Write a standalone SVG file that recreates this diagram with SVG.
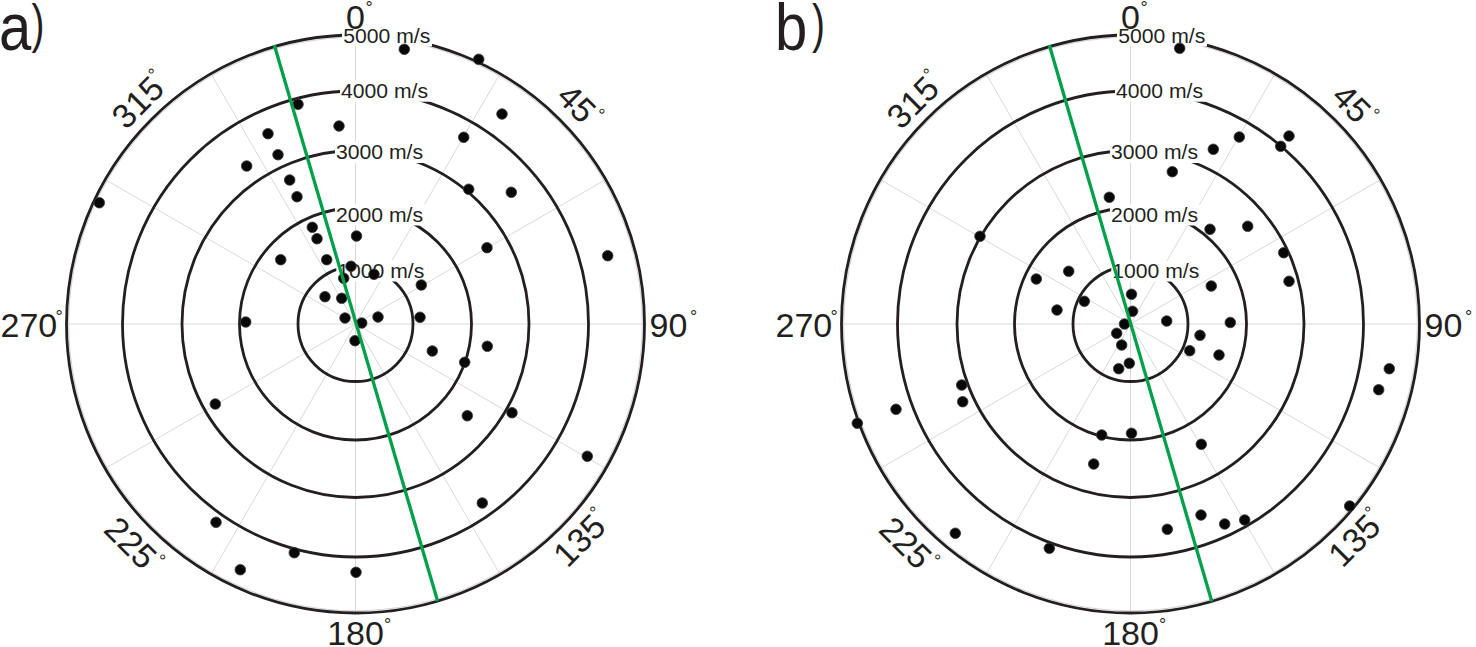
<svg xmlns="http://www.w3.org/2000/svg" xmlns:xlink="http://www.w3.org/1999/xlink" width="1476" height="647" viewBox="0 0 1476 647">
<style>
  text { font-family: "Liberation Sans", Arial, sans-serif; fill: #231f20; }
  .spoke { stroke: #d9d9d9; stroke-width: 1; fill: none; }
  .rim { stroke: #d2d2d2; stroke-width: 1; fill: none; }
  .ring { stroke: #231f20; stroke-width: 2.8; fill: none; }
  .bg { fill: #ffffff; stroke: none; }
  .rl { font-size: 20px; }
  .al { font-size: 34px; }
  .deg { font-size: 18px; }
  .pan { font-size: 66px; }
  .par { font-size: 54px; }
  .dot { fill: #080808; stroke: #3a3a3a; stroke-width: 0.8; }
  .trend { stroke: #00a04a; stroke-width: 3.3; fill: none; }
</style>
<defs>
  <g id="frame">
    <g id="spokes">
      <line class="spoke" x1="0" y1="-289" x2="0" y2="289"/>
      <line class="spoke" x1="144.5" y1="-250.3" x2="-144.5" y2="250.3"/>
      <line class="spoke" x1="250.3" y1="-144.5" x2="-250.3" y2="144.5"/>
      <line class="spoke" x1="-289" y1="0" x2="289" y2="0"/>
      <line class="spoke" x1="250.3" y1="144.5" x2="-250.3" y2="-144.5"/>
      <line class="spoke" x1="144.5" y1="250.3" x2="-144.5" y2="-250.3"/>
      <circle class="rim" r="286.8"/>
    </g>
    <g id="rings">
      <circle class="ring" r="57.5"/>
      <circle class="ring" r="116"/>
      <circle class="ring" r="173.5"/>
      <circle class="ring" r="233"/>
      <circle class="ring" r="289"/>
    </g>
    <g id="ring-labels">
      <rect class="bg" x="-13.5" y="-298.5" width="90" height="21"/>
      <rect class="bg" x="-15.5" y="-243.3" width="90" height="21"/>
      <rect class="bg" x="-20.5" y="-182" width="90" height="21"/>
      <rect class="bg" x="-20.5" y="-119.5" width="90" height="21"/>
      <rect class="bg" x="-19.2" y="-63.5" width="90" height="21"/>
      <text class="rl" x="-12.3" y="-281.5" textLength="87" lengthAdjust="spacingAndGlyphs">5000 m/s</text>
      <text class="rl" x="-14.5" y="-226.3" textLength="87" lengthAdjust="spacingAndGlyphs">4000 m/s</text>
      <text class="rl" x="-19.5" y="-165" textLength="87" lengthAdjust="spacingAndGlyphs">3000 m/s</text>
      <text class="rl" x="-19.5" y="-102.5" textLength="87" lengthAdjust="spacingAndGlyphs">2000 m/s</text>
      <text class="rl" x="-18.2" y="-46.5" textLength="87" lengthAdjust="spacingAndGlyphs">1000 m/s</text>
    </g>
    <g id="angle-labels">
      <text class="al" x="0" y="-295.5" text-anchor="middle">0</text>
      <text class="deg" x="13.5" y="-309.6" text-anchor="middle">°</text>
      <text class="al" x="294.1" y="12.7">90</text>
      <text class="deg" x="338" y="-0.8" text-anchor="middle">°</text>
      <text class="al" x="0" y="321" text-anchor="middle">180</text>
      <text class="deg" x="32" y="307" text-anchor="middle">°</text>
      <text class="al" x="-355" y="12.7">270</text>
      <text class="deg" x="-296.5" y="-0.9" text-anchor="middle">°</text>
      <g transform="translate(221.5,-221) rotate(45)">
        <text class="al" x="0" y="12.2" text-anchor="middle">45</text>
        <text class="deg" x="23.5" y="-1.8" text-anchor="middle">°</text>
      </g>
      <g transform="translate(223.5,216) rotate(-45)">
        <text class="al" x="0" y="12.2" text-anchor="middle">135</text>
        <text class="deg" x="31.5" y="-2.1" text-anchor="middle">°</text>
      </g>
      <g transform="translate(-224.5,218.5) rotate(45)">
        <text class="al" x="0" y="12.2" text-anchor="middle">225</text>
        <text class="deg" x="32.5" y="-2.1" text-anchor="middle">°</text>
      </g>
      <g transform="translate(-218,-222) rotate(-45)">
        <text class="al" x="0" y="12.2" text-anchor="middle">315</text>
        <text class="deg" x="31.5" y="-2.1" text-anchor="middle">°</text>
      </g>
    </g>
  </g>
</defs>

<g id="panel-a">
  <g id="panel-a-label">
    <text class="pan" transform="translate(0,50) scale(0.88,1)" x="-1" y="0">a</text>
    <text class="par" transform="translate(31.5,42) scale(0.72,1)" x="0" y="0">)</text>
  </g>
  <use id="frame-a" xlink:href="#frame" href="#frame" x="355.5" y="324"/>
  <g id="points-a">
    <circle class="dot" cx="404.3" cy="49.3" r="5.3"/>
    <circle class="dot" cx="478.7" cy="59.3" r="5.3"/>
    <circle class="dot" cx="298" cy="104.3" r="5.3"/>
    <circle class="dot" cx="502" cy="114" r="5.3"/>
    <circle class="dot" cx="339" cy="126" r="5.3"/>
    <circle class="dot" cx="268" cy="133.7" r="5.3"/>
    <circle class="dot" cx="463.7" cy="137.3" r="5.3"/>
    <circle class="dot" cx="278" cy="154.7" r="5.3"/>
    <circle class="dot" cx="246.7" cy="166" r="5.3"/>
    <circle class="dot" cx="289.7" cy="180" r="5.3"/>
    <circle class="dot" cx="468.7" cy="189.3" r="5.3"/>
    <circle class="dot" cx="511.3" cy="192.3" r="5.3"/>
    <circle class="dot" cx="297" cy="196.7" r="5.3"/>
    <circle class="dot" cx="99.3" cy="202.7" r="5.3"/>
    <circle class="dot" cx="312.3" cy="227.3" r="5.3"/>
    <circle class="dot" cx="317" cy="238.7" r="5.3"/>
    <circle class="dot" cx="356.5" cy="236" r="5.3"/>
    <circle class="dot" cx="487" cy="247.7" r="5.3"/>
    <circle class="dot" cx="607.7" cy="255.7" r="5.3"/>
    <circle class="dot" cx="280.7" cy="259.7" r="5.3"/>
    <circle class="dot" cx="326.7" cy="259.7" r="5.3"/>
    <circle class="dot" cx="351" cy="266.3" r="5.3"/>
    <circle class="dot" cx="374" cy="274.3" r="5.3"/>
    <circle class="dot" cx="343.7" cy="278.3" r="5.3"/>
    <circle class="dot" cx="421.3" cy="285" r="5.3"/>
    <circle class="dot" cx="325" cy="296.7" r="5.3"/>
    <circle class="dot" cx="341.7" cy="298.3" r="5.3"/>
    <circle class="dot" cx="378" cy="317" r="5.3"/>
    <circle class="dot" cx="420" cy="317.3" r="5.3"/>
    <circle class="dot" cx="245.7" cy="322" r="5.3"/>
    <circle class="dot" cx="345" cy="318" r="5.3"/>
    <circle class="dot" cx="361.7" cy="323" r="5.3"/>
    <circle class="dot" cx="355" cy="340.7" r="5.3"/>
    <circle class="dot" cx="432.3" cy="351" r="5.3"/>
    <circle class="dot" cx="487.3" cy="346.3" r="5.3"/>
    <circle class="dot" cx="464.7" cy="362.3" r="5.3"/>
    <circle class="dot" cx="467.3" cy="415.7" r="5.3"/>
    <circle class="dot" cx="512" cy="412.7" r="5.3"/>
    <circle class="dot" cx="587.3" cy="456.3" r="5.3"/>
    <circle class="dot" cx="215.3" cy="404" r="5.3"/>
    <circle class="dot" cx="482.3" cy="503" r="5.3"/>
    <circle class="dot" cx="216" cy="522.3" r="5.3"/>
    <circle class="dot" cx="294.3" cy="552.7" r="5.3"/>
    <circle class="dot" cx="240.3" cy="569.7" r="5.3"/>
    <circle class="dot" cx="356" cy="572.3" r="5.3"/>
  </g>
</g>

<g id="panel-b">
  <g id="panel-b-label">
    <text class="pan" transform="translate(776,50) scale(0.88,1)" x="-1" y="0">b</text>
    <text class="par" transform="translate(812,42) scale(0.72,1)" x="0" y="0">)</text>
  </g>
  <use id="frame-b" xlink:href="#frame" href="#frame" x="1130.5" y="324"/>
  <g id="points-b">
    <circle class="dot" cx="1179.7" cy="48.3" r="5.3"/>
    <circle class="dot" cx="1289" cy="136" r="5.3"/>
    <circle class="dot" cx="1280.7" cy="146.3" r="5.3"/>
    <circle class="dot" cx="1239.3" cy="137" r="5.3"/>
    <circle class="dot" cx="1213.3" cy="149.3" r="5.3"/>
    <circle class="dot" cx="1172.3" cy="171.7" r="5.3"/>
    <circle class="dot" cx="1109.3" cy="197.3" r="5.3"/>
    <circle class="dot" cx="1210" cy="229.3" r="5.3"/>
    <circle class="dot" cx="1247.7" cy="226.3" r="5.3"/>
    <circle class="dot" cx="980" cy="236.3" r="5.3"/>
    <circle class="dot" cx="1283.7" cy="252.7" r="5.3"/>
    <circle class="dot" cx="1068.7" cy="271.3" r="5.3"/>
    <circle class="dot" cx="1036.3" cy="279" r="5.3"/>
    <circle class="dot" cx="1289" cy="281.3" r="5.3"/>
    <circle class="dot" cx="1211.3" cy="286" r="5.3"/>
    <circle class="dot" cx="1131.5" cy="294.3" r="5.3"/>
    <circle class="dot" cx="1084.3" cy="301.3" r="5.3"/>
    <circle class="dot" cx="1057" cy="310" r="5.3"/>
    <circle class="dot" cx="1132.5" cy="311.3" r="5.3"/>
    <circle class="dot" cx="1166.7" cy="321" r="5.3"/>
    <circle class="dot" cx="1230.3" cy="322.5" r="5.3"/>
    <circle class="dot" cx="1124.5" cy="324" r="5.3"/>
    <circle class="dot" cx="1116.7" cy="333.3" r="5.3"/>
    <circle class="dot" cx="1200" cy="335.3" r="5.3"/>
    <circle class="dot" cx="1121.7" cy="345" r="5.3"/>
    <circle class="dot" cx="1189.7" cy="350.7" r="5.3"/>
    <circle class="dot" cx="1219" cy="355" r="5.3"/>
    <circle class="dot" cx="1129.3" cy="363.3" r="5.3"/>
    <circle class="dot" cx="1118.7" cy="368.7" r="5.3"/>
    <circle class="dot" cx="1389.3" cy="368.7" r="5.3"/>
    <circle class="dot" cx="961.7" cy="385" r="5.3"/>
    <circle class="dot" cx="1378.7" cy="389.7" r="5.3"/>
    <circle class="dot" cx="962.7" cy="401.7" r="5.3"/>
    <circle class="dot" cx="896" cy="409.3" r="5.3"/>
    <circle class="dot" cx="857.3" cy="423.3" r="5.3"/>
    <circle class="dot" cx="1101.7" cy="435" r="5.3"/>
    <circle class="dot" cx="1131.5" cy="433.3" r="5.3"/>
    <circle class="dot" cx="1201.3" cy="444.3" r="5.3"/>
    <circle class="dot" cx="1093.7" cy="464" r="5.3"/>
    <circle class="dot" cx="1349.7" cy="506" r="5.3"/>
    <circle class="dot" cx="1201" cy="515" r="5.3"/>
    <circle class="dot" cx="1224.7" cy="524" r="5.3"/>
    <circle class="dot" cx="1244.7" cy="520" r="5.3"/>
    <circle class="dot" cx="1167.3" cy="529.3" r="5.3"/>
    <circle class="dot" cx="955.3" cy="533.3" r="5.3"/>
    <circle class="dot" cx="1049.3" cy="548.3" r="5.3"/>
  </g>
</g>

<g id="connectors">
  <line id="trend-a" class="trend" x1="274.3" y1="45" x2="437.6" y2="601"/>
  <line id="trend-b" class="trend" x1="1049.3" y1="45" x2="1211.8" y2="601.5"/>
</g>
</svg>
